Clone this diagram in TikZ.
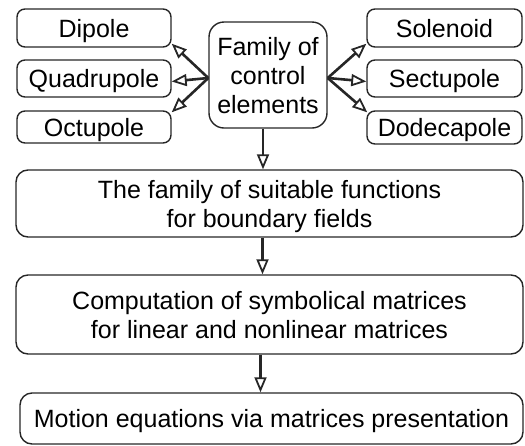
\documentclass[tikz,border=0pt]{standalone}
\usepackage{fontspec}
\setmainfont{Liberation Sans}
\usetikzlibrary{arrows.meta,calc}
\begin{document}
\begin{tikzpicture}[x=1pt,y=1pt,
  box/.style={draw=black!85,line width=1.4pt,rounded corners=8pt,align=center,inner sep=0pt,text depth=0pt,font=\fontsize{25}{29}\selectfont},
  arr/.style={draw=black!85,line width=2.6pt,-{Triangle[open,length=15pt,width=12pt,line width=1.8pt]}}]
\useasboundingbox (0,0) rectangle (525,-445);
\node[box,minimum width=154pt,minimum height=38pt] (dip) at (94,-28) {Dipole};
\node[box,minimum width=154pt,minimum height=37pt] (quad) at (94,-78.5) {Quadrupole};
\node[box,minimum width=154pt,minimum height=32pt] (oct) at (94,-127) {Octupole};
\node[box,rounded corners=15pt,minimum width=118pt,minimum height=106pt] (fam) at (268,-75) {Family of\\control\\elements};
\node[box,minimum width=155pt,minimum height=38pt] (sol) at (444.5,-28) {Solenoid};
\node[box,minimum width=155pt,minimum height=37pt] (sec) at (444.5,-78.5) {Sectupole};
\node[box,minimum width=155pt,minimum height=33pt] (dod) at (444.5,-127.5) {Dodecapole};
\node[box,rounded corners=12pt,minimum width=507pt,minimum height=67pt] (b1) at (269.5,-203.5) {The family of suitable functions\\for boundary fields};
\node[box,rounded corners=12pt,minimum width=507pt,minimum height=79pt] (b2) at (269.5,-314.5) {Computation of symbolical matrices\\for linear and nonlinear matrices};
\node[box,rounded corners=12pt,minimum width=503pt,minimum height=51pt] (b3) at (271.5,-418.5) {Motion equations via matrices presentation};
\coordinate (fl) at ([yshift=-3pt]fam.west);
\coordinate (fr) at ([yshift=-3pt]fam.east);
\draw[arr] (fl) -- ([yshift=4pt]dip.south east);
\draw[arr] (fl) -- ([yshift=-3pt]quad.east);
\draw[arr] (fl) -- ([yshift=-2pt]oct.north east);
\draw[arr] (fr) -- ([yshift=4pt]sol.south west);
\draw[arr] (fr) -- ([yshift=-3pt]sec.west);
\draw[arr] (fr) -- ([yshift=-2pt,xshift=1pt]dod.north west);
\draw[arr] ([xshift=-5pt]fam.south) -- ([xshift=-5pt]fam.south |- b1.north);
\draw[arr] ([xshift=-7pt]b1.south) -- ([xshift=-7pt]b1.south |- b2.north);
\draw[arr] ([xshift=-9pt]b2.south) -- ([xshift=-9pt]b2.south |- b3.north);
\end{tikzpicture}
\end{document}
